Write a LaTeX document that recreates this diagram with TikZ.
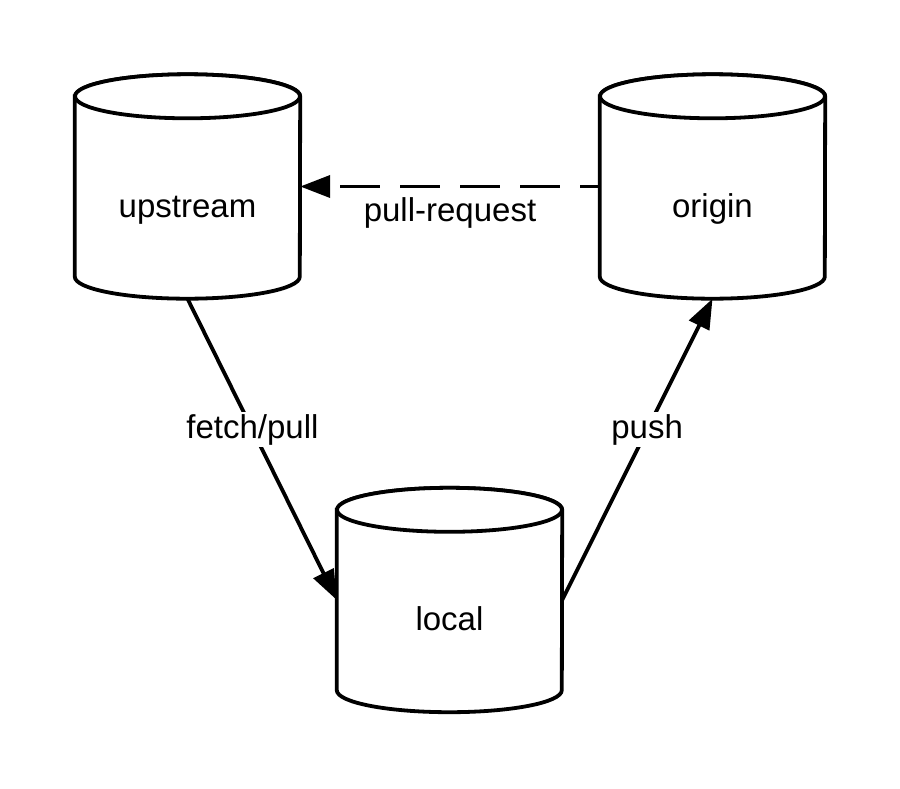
\documentclass[tikz,border=0pt]{standalone}
\usepackage{fontspec}
\setmainfont{Liberation Sans}
\usetikzlibrary{arrows.meta}
\begin{document}
\begin{tikzpicture}[x=1pt,y=-1pt,
  cylbox/.style={minimum width=225pt, minimum height=224pt, inner sep=0pt, draw=none},
  cylline/.style={line width=3.8pt, fill=white},
  lbl/.style={font=\fontsize{33}{36}\selectfont, inner sep=0pt},
  conn/.style={line width=3.8pt, -{Triangle[length=30pt,width=22pt]}},
  elbl/.style={font=\fontsize{33}{36}\selectfont, fill=white, inner sep=2pt},
  dashconn/.style={conn, dash pattern=on 40pt off 20pt, dash phase=20pt},
]
\useasboundingbox[fill=white] (0,0) rectangle (900,788);
\newcommand\mycyl[2]{%
  \draw[cylline] ([yshift=-22pt]#1.north west) -- ([yshift=22pt]#1.south west)
    arc[start angle=180, end angle=360, x radius=112.5pt, y radius=22pt]
    -- ([yshift=-22pt]#1.north east)
    arc[start angle=0, end angle=180, x radius=112.5pt, y radius=22pt] -- cycle;
  \draw[cylline] ([yshift=-22pt]#1.north) ellipse[x radius=112.5pt, y radius=22pt];
  \node[lbl, anchor=base] (#1text) at ([yshift=-30.5pt]#1.center) {#2};
}
\node[cylbox] (upstream) at (187.5,186.5) {};
\node[cylbox] (origin) at (712.5,186.5) {};
\node[cylbox] (local) at (449.5,600) {};
\mycyl{upstream}{upstream}
\mycyl{origin}{origin}
\mycyl{local}{local}

\draw[dashconn] (origin.west) -- (upstream.east);
\path (origin.west) -- (upstream.east)
  node[lbl, pos=0.5, yshift=-26pt] (prlabel) {pull-request};
\draw[conn] (upstream.south) -- (local.west)
  node[elbl, pos=0.435] (fplabel) {fetch/pull};
\draw[conn] (local.east) -- (origin.south)
  node[elbl, pos=0.565] (pushlabel) {push};
\end{tikzpicture}
\end{document}
